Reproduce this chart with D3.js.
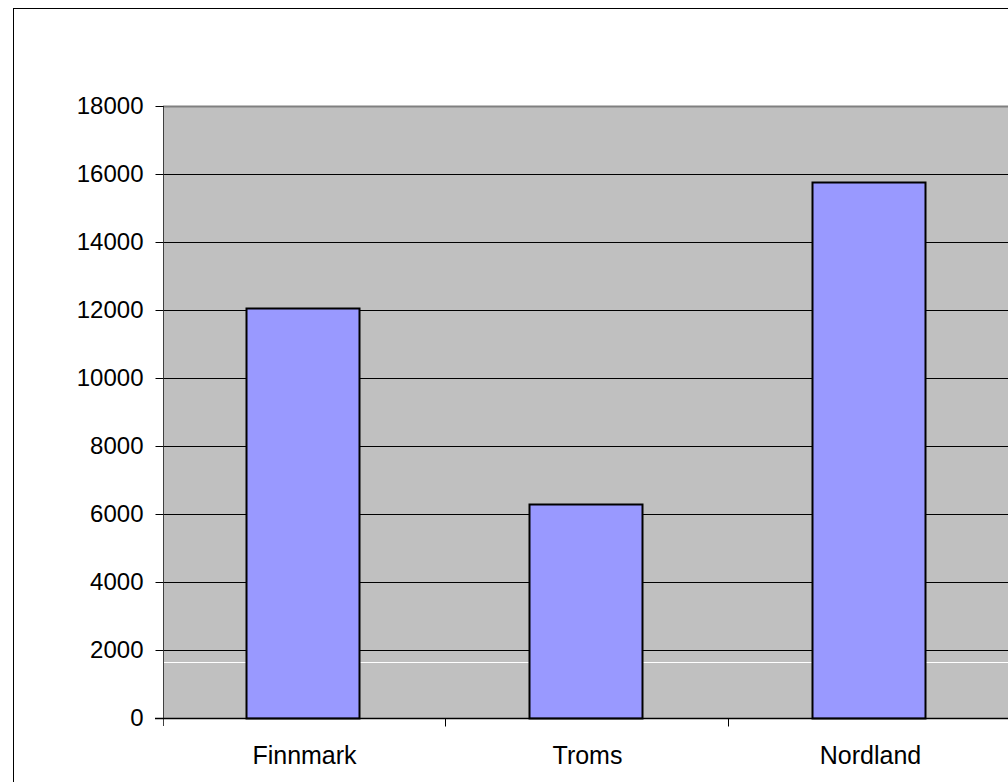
<html>
<head>
<script src="https://d3js.org/d3.v7.min.js"></script>
<style>
body { margin: 0; background: #fff; }
text { font-family: "Liberation Sans", Arial, sans-serif; }
</style>
</head>
<body>
<script>
var categories = ["Finnmark", "Troms", "Nordland"];
var values = [12050, 6300, 15770];
var yTicks = [0, 2000, 4000, 6000, 8000, 10000, 12000, 14000, 16000, 18000];
var whiteLineValue = 1650;

var width = 1008, height = 782;
var mLeft = 163, mTop = 106, plotW = 849, plotH = 612;

var svg = d3.select("body").append("svg")
    .attr("width", width)
    .attr("height", height)
    .style("display", "block");

// outer chart border
svg.append("rect")
    .attr("x", 13.5).attr("y", 8.5)
    .attr("width", 1100).attr("height", 900)
    .attr("fill", "#fff").attr("stroke", "#000").attr("stroke-width", 1);

var x = d3.scaleBand().domain(categories).range([mLeft, mLeft + plotW]).paddingInner(0.6).paddingOuter(0.3);
var xb = d3.scaleBand().domain(categories).range([mLeft, mLeft + plotW]);
var y = d3.scaleLinear().domain([0, 18000]).range([mTop + plotH, mTop]);

// plot area
svg.append("rect")
    .attr("x", mLeft).attr("y", mTop)
    .attr("width", plotW).attr("height", plotH)
    .attr("fill", "#c0c0c0");

// gridlines
svg.append("g").selectAll("line")
    .data(yTicks.slice(1))
    .enter().append("line")
    .attr("x1", mLeft).attr("x2", mLeft + plotW)
    .attr("y1", function(d) { return Math.round(y(d)) + 0.5; })
    .attr("y2", function(d) { return Math.round(y(d)) + 0.5; })
    .attr("stroke", function(d) { return d == 18000 ? "#808080" : "#000"; })
    .attr("stroke-width", function(d) { return d == 18000 ? 2 : 1; });

svg.append("line")
    .attr("x1", mLeft).attr("x2", mLeft + plotW)
    .attr("y1", Math.round(y(whiteLineValue)) + 0.5)
    .attr("y2", Math.round(y(whiteLineValue)) + 0.5)
    .attr("stroke", "#fff");

// bars
svg.append("g").selectAll("rect")
    .data(values)
    .enter().append("rect")
    .attr("x", function(d, i) { return Math.round(x(categories[i])) - 1.5; })
    .attr("y", function(d) { return Math.round(y(d)) + 0.5; })
    .attr("width", Math.round(x.bandwidth()))
    .attr("height", function(d) { return Math.round(y(0)) - Math.round(y(d)); })
    .attr("fill", "#9999ff")
    .attr("stroke", "#000")
    .attr("stroke-width", 2);

// y axis
var yAxis = svg.append("g")
    .attr("transform", "translate(" + (mLeft + 0.5) + ",0)")
    .call(d3.axisLeft(y).tickValues(yTicks).tickSize(8).tickPadding(12).tickFormat(d3.format("d")));
yAxis.selectAll("text").attr("font-size", 24).attr("fill", "#000")
    .style("font-family", "'Liberation Sans', Arial, sans-serif");
yAxis.selectAll("line").attr("stroke", "#000");
yAxis.select(".domain").attr("stroke", "#404040").attr("d", "M0," + mTop + "V" + (mTop + plotH + 8));

// x axis
var xAxis = svg.append("g")
    .attr("transform", "translate(0," + (mTop + plotH + 0.5) + ")");
xAxis.append("line")
    .attr("x1", mLeft - 8).attr("x2", mLeft + plotW)
    .attr("stroke", "#000").attr("stroke-width", 1.5);
xAxis.selectAll(".tk")
    .data(categories.slice(1))
    .enter().append("line")
    .attr("x1", function(d) { return Math.round(xb(d)) - 0.5; })
    .attr("x2", function(d) { return Math.round(xb(d)) - 0.5; })
    .attr("y1", 0).attr("y2", 8)
    .attr("stroke", "#000");
xAxis.selectAll("text")
    .data(categories)
    .enter().append("text")
    .attr("x", function(d) { return xb(d) + xb.bandwidth() / 2; })
    .attr("y", 45)
    .attr("text-anchor", "middle")
    .attr("font-size", 25)
    .text(function(d) { return d; });
</script>
</body>
</html>
